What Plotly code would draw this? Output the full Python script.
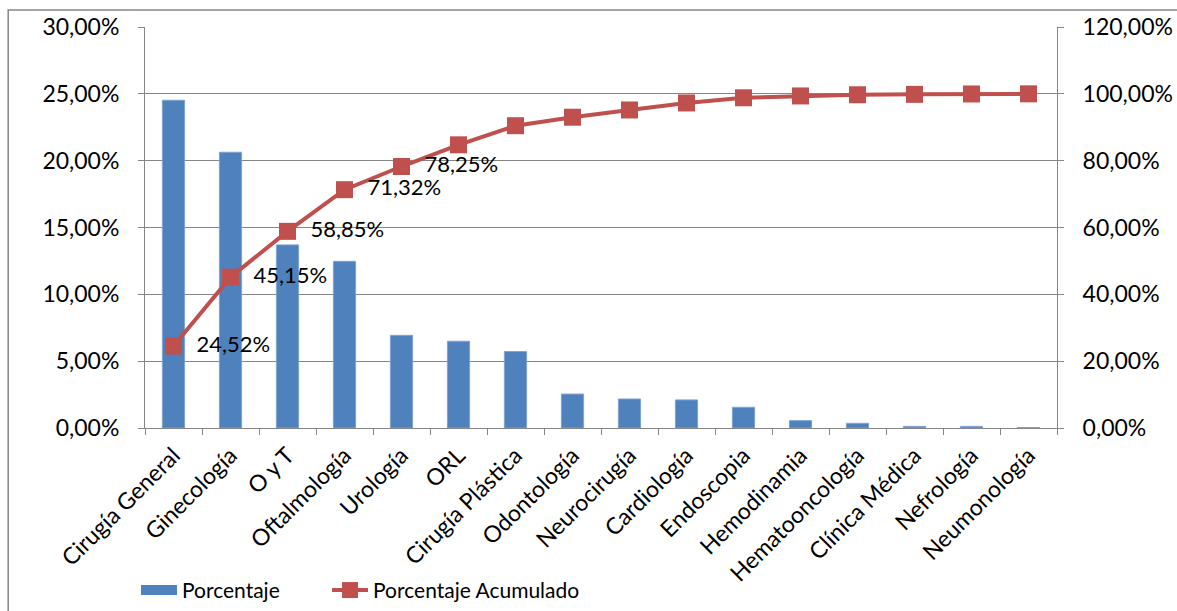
import plotly.graph_objects as go

categorias = ["Cirugía General", "Ginecología", "O y T", "Oftalmología", "Urología", "ORL",
              "Cirugía Plástica", "Odontología", "Neurocirugía", "Cardiología", "Endoscopia",
              "Hemodinamia", "Hematooncología", "Clínica Médica", "Nefrología", "Neumonología"]
porcentaje = [24.52, 20.63, 13.70, 12.47, 6.93, 6.49, 5.72, 2.54, 2.17, 2.10, 1.55,
              0.55, 0.35, 0.12, 0.12, 0.04]
acumulado = [24.52, 45.15, 58.85, 71.32, 78.25, 84.74, 90.46, 93.00, 95.17, 97.27, 98.82,
             99.37, 99.72, 99.84, 99.96, 100.00]
etiquetas = ["  " + f"{v:.2f}%".replace(".", ",") if i < 5 else "" for i, v in enumerate(acumulado)]

grid = "#868686"
azul = "#4F81BD"
rojo = "#C0504D"
font = "Lato, 'Open Sans', sans-serif"

fig = go.Figure()
fig.add_trace(go.Bar(x=categorias, y=porcentaje, name="Porcentaje", width=0.39, showlegend=False,
                     marker=dict(color=azul, line=dict(color="#7FA3D3", width=1))))
# legend entry drawn as a wide block like the Excel legend
fig.add_trace(go.Scatter(x=[None], y=[None], name="Porcentaje", mode="lines",
                         line=dict(color=azul, width=15), legend="legend"))
fig.add_trace(go.Scatter(x=categorias, y=acumulado, name="Porcentaje Acumulado", yaxis="y2",
                         mode="lines+markers+text", text=etiquetas, textposition="middle right",
                         textfont=dict(size=22, color="black"),
                         line=dict(color=rojo, width=4),
                         marker=dict(symbol="square", size=17, color=rojo), legend="legend2"))

leg = dict(orientation="h", y=-0.405, yanchor="middle", xanchor="left",
           font=dict(size=21), itemwidth=36, bgcolor="rgba(0,0,0,0)")

fig.update_layout(
    width=1177, height=611,
    margin=dict(l=145, r=120, t=27, b=183, autoexpand=False),
    paper_bgcolor="white", plot_bgcolor="white",
    font=dict(family=font, size=22, color="black"),
    separators=",.",
    showlegend=True,
    legend=dict(leg, x=-0.0099),
    legend2=dict(leg, x=0.1996),
    xaxis=dict(range=[-0.5, 15.5], showline=True, linecolor=grid, linewidth=1, ticks="outside",
               tickson="boundaries", ticklen=6, tickcolor=grid, tickangle=-45,
               tickfont=dict(size=23), automargin=False, ticklabelstandoff=4),
    yaxis=dict(range=[0, 30], dtick=5, tickformat=".2f", ticksuffix="%", showgrid=True,
               gridcolor=grid, gridwidth=1, showline=True, linecolor=grid, ticks="outside",
               ticklen=6, tickcolor=grid, zeroline=False, automargin=False,
               ticklabelstandoff=14, tickfont=dict(size=23)),
    yaxis2=dict(range=[0, 120], dtick=20, tickformat=".2f", ticksuffix="%", overlaying="y",
                side="right", showgrid=False, showline=True, linecolor=grid, ticks="outside",
                ticklen=6, tickcolor=grid, zeroline=False, automargin=False,
                ticklabelstandoff=14, tickfont=dict(size=23)),
)
fig.add_shape(type="rect", xref="paper", yref="paper", x0=-0.150, x1=1.3, y0=-0.6, y1=1.0424,
              line=dict(color=grid, width=1.5), layer="below")

fig.write_html("out.html", config={"displayModeBar": False},
               post_script="document.body.style.margin='0px';")
